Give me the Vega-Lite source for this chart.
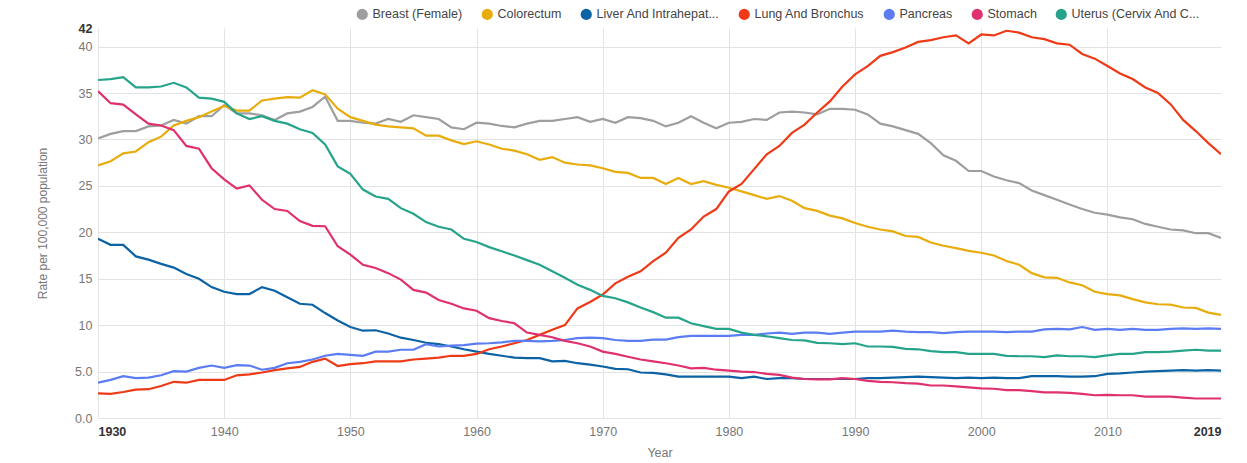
{
"$schema": "https://vega.github.io/schema/vega-lite/v6.json",
"width": 1123, "height": 390,
"autosize": {"type": "none"},
"padding": {"left": 98, "top": 28, "right": 26, "bottom": 45},
"background": "white",
"config": {"view": {"stroke": null}, "font": "Liberation Sans"},
"data": {"values": [
{"Year":1930,"Site":"Breast (Female)","Rate":30.1},{"Year":1931,"Site":"Breast (Female)","Rate":30.6},{"Year":1932,"Site":"Breast (Female)","Rate":30.9},{"Year":1933,"Site":"Breast (Female)","Rate":30.9},{"Year":1934,"Site":"Breast (Female)","Rate":31.4},{"Year":1935,"Site":"Breast (Female)","Rate":31.5},{"Year":1936,"Site":"Breast (Female)","Rate":32.1},{"Year":1937,"Site":"Breast (Female)","Rate":31.7},{"Year":1938,"Site":"Breast (Female)","Rate":32.5},{"Year":1939,"Site":"Breast (Female)","Rate":32.5},
{"Year":1940,"Site":"Breast (Female)","Rate":33.7},{"Year":1941,"Site":"Breast (Female)","Rate":32.8},{"Year":1942,"Site":"Breast (Female)","Rate":32.8},{"Year":1943,"Site":"Breast (Female)","Rate":32.6},{"Year":1944,"Site":"Breast (Female)","Rate":32.1},{"Year":1945,"Site":"Breast (Female)","Rate":32.8},{"Year":1946,"Site":"Breast (Female)","Rate":33.0},{"Year":1947,"Site":"Breast (Female)","Rate":33.5},{"Year":1948,"Site":"Breast (Female)","Rate":34.6},{"Year":1949,"Site":"Breast (Female)","Rate":32.0},
{"Year":1950,"Site":"Breast (Female)","Rate":32.0},{"Year":1951,"Site":"Breast (Female)","Rate":31.8},{"Year":1952,"Site":"Breast (Female)","Rate":31.7},{"Year":1953,"Site":"Breast (Female)","Rate":32.2},{"Year":1954,"Site":"Breast (Female)","Rate":31.9},{"Year":1955,"Site":"Breast (Female)","Rate":32.6},{"Year":1956,"Site":"Breast (Female)","Rate":32.4},{"Year":1957,"Site":"Breast (Female)","Rate":32.2},{"Year":1958,"Site":"Breast (Female)","Rate":31.3},{"Year":1959,"Site":"Breast (Female)","Rate":31.1},
{"Year":1960,"Site":"Breast (Female)","Rate":31.8},{"Year":1961,"Site":"Breast (Female)","Rate":31.7},{"Year":1962,"Site":"Breast (Female)","Rate":31.45},{"Year":1963,"Site":"Breast (Female)","Rate":31.3},{"Year":1964,"Site":"Breast (Female)","Rate":31.7},{"Year":1965,"Site":"Breast (Female)","Rate":32.0},{"Year":1966,"Site":"Breast (Female)","Rate":32.0},{"Year":1967,"Site":"Breast (Female)","Rate":32.2},{"Year":1968,"Site":"Breast (Female)","Rate":32.4},{"Year":1969,"Site":"Breast (Female)","Rate":31.9},
{"Year":1970,"Site":"Breast (Female)","Rate":32.2},{"Year":1971,"Site":"Breast (Female)","Rate":31.8},{"Year":1972,"Site":"Breast (Female)","Rate":32.4},{"Year":1973,"Site":"Breast (Female)","Rate":32.3},{"Year":1974,"Site":"Breast (Female)","Rate":32.0},{"Year":1975,"Site":"Breast (Female)","Rate":31.4},{"Year":1976,"Site":"Breast (Female)","Rate":31.8},{"Year":1977,"Site":"Breast (Female)","Rate":32.5},{"Year":1978,"Site":"Breast (Female)","Rate":31.8},{"Year":1979,"Site":"Breast (Female)","Rate":31.2},
{"Year":1980,"Site":"Breast (Female)","Rate":31.8},{"Year":1981,"Site":"Breast (Female)","Rate":31.9},{"Year":1982,"Site":"Breast (Female)","Rate":32.2},{"Year":1983,"Site":"Breast (Female)","Rate":32.1},{"Year":1984,"Site":"Breast (Female)","Rate":32.9},{"Year":1985,"Site":"Breast (Female)","Rate":33.0},{"Year":1986,"Site":"Breast (Female)","Rate":32.9},{"Year":1987,"Site":"Breast (Female)","Rate":32.7},{"Year":1988,"Site":"Breast (Female)","Rate":33.3},{"Year":1989,"Site":"Breast (Female)","Rate":33.3},
{"Year":1990,"Site":"Breast (Female)","Rate":33.2},{"Year":1991,"Site":"Breast (Female)","Rate":32.7},{"Year":1992,"Site":"Breast (Female)","Rate":31.7},{"Year":1993,"Site":"Breast (Female)","Rate":31.4},{"Year":1994,"Site":"Breast (Female)","Rate":31.0},{"Year":1995,"Site":"Breast (Female)","Rate":30.6},{"Year":1996,"Site":"Breast (Female)","Rate":29.6},{"Year":1997,"Site":"Breast (Female)","Rate":28.3},{"Year":1998,"Site":"Breast (Female)","Rate":27.7},{"Year":1999,"Site":"Breast (Female)","Rate":26.6},
{"Year":2000,"Site":"Breast (Female)","Rate":26.6},{"Year":2001,"Site":"Breast (Female)","Rate":26.0},{"Year":2002,"Site":"Breast (Female)","Rate":25.6},{"Year":2003,"Site":"Breast (Female)","Rate":25.3},{"Year":2004,"Site":"Breast (Female)","Rate":24.5},{"Year":2005,"Site":"Breast (Female)","Rate":24.0},{"Year":2006,"Site":"Breast (Female)","Rate":23.5},{"Year":2007,"Site":"Breast (Female)","Rate":23.0},{"Year":2008,"Site":"Breast (Female)","Rate":22.5},{"Year":2009,"Site":"Breast (Female)","Rate":22.1},
{"Year":2010,"Site":"Breast (Female)","Rate":21.9},{"Year":2011,"Site":"Breast (Female)","Rate":21.6},{"Year":2012,"Site":"Breast (Female)","Rate":21.4},{"Year":2013,"Site":"Breast (Female)","Rate":20.9},{"Year":2014,"Site":"Breast (Female)","Rate":20.6},{"Year":2015,"Site":"Breast (Female)","Rate":20.3},{"Year":2016,"Site":"Breast (Female)","Rate":20.2},{"Year":2017,"Site":"Breast (Female)","Rate":19.9},{"Year":2018,"Site":"Breast (Female)","Rate":19.9},{"Year":2019,"Site":"Breast (Female)","Rate":19.4},

{"Year":1930,"Site":"Colorectum","Rate":27.2},{"Year":1931,"Site":"Colorectum","Rate":27.65},{"Year":1932,"Site":"Colorectum","Rate":28.5},{"Year":1933,"Site":"Colorectum","Rate":28.7},{"Year":1934,"Site":"Colorectum","Rate":29.7},{"Year":1935,"Site":"Colorectum","Rate":30.3},{"Year":1936,"Site":"Colorectum","Rate":31.5},{"Year":1937,"Site":"Colorectum","Rate":32.0},{"Year":1938,"Site":"Colorectum","Rate":32.4},{"Year":1939,"Site":"Colorectum","Rate":33.0},
{"Year":1940,"Site":"Colorectum","Rate":33.6},{"Year":1941,"Site":"Colorectum","Rate":33.1},{"Year":1942,"Site":"Colorectum","Rate":33.1},{"Year":1943,"Site":"Colorectum","Rate":34.2},{"Year":1944,"Site":"Colorectum","Rate":34.4},{"Year":1945,"Site":"Colorectum","Rate":34.55},{"Year":1946,"Site":"Colorectum","Rate":34.5},{"Year":1947,"Site":"Colorectum","Rate":35.3},{"Year":1948,"Site":"Colorectum","Rate":34.85},{"Year":1949,"Site":"Colorectum","Rate":33.3},
{"Year":1950,"Site":"Colorectum","Rate":32.4},{"Year":1951,"Site":"Colorectum","Rate":32.0},{"Year":1952,"Site":"Colorectum","Rate":31.6},{"Year":1953,"Site":"Colorectum","Rate":31.4},{"Year":1954,"Site":"Colorectum","Rate":31.3},{"Year":1955,"Site":"Colorectum","Rate":31.2},{"Year":1956,"Site":"Colorectum","Rate":30.4},{"Year":1957,"Site":"Colorectum","Rate":30.4},{"Year":1958,"Site":"Colorectum","Rate":29.9},{"Year":1959,"Site":"Colorectum","Rate":29.5},
{"Year":1960,"Site":"Colorectum","Rate":29.8},{"Year":1961,"Site":"Colorectum","Rate":29.45},{"Year":1962,"Site":"Colorectum","Rate":29.0},{"Year":1963,"Site":"Colorectum","Rate":28.8},{"Year":1964,"Site":"Colorectum","Rate":28.4},{"Year":1965,"Site":"Colorectum","Rate":27.8},{"Year":1966,"Site":"Colorectum","Rate":28.1},{"Year":1967,"Site":"Colorectum","Rate":27.5},{"Year":1968,"Site":"Colorectum","Rate":27.3},{"Year":1969,"Site":"Colorectum","Rate":27.2},
{"Year":1970,"Site":"Colorectum","Rate":26.9},{"Year":1971,"Site":"Colorectum","Rate":26.5},{"Year":1972,"Site":"Colorectum","Rate":26.4},{"Year":1973,"Site":"Colorectum","Rate":25.85},{"Year":1974,"Site":"Colorectum","Rate":25.85},{"Year":1975,"Site":"Colorectum","Rate":25.2},{"Year":1976,"Site":"Colorectum","Rate":25.85},{"Year":1977,"Site":"Colorectum","Rate":25.2},{"Year":1978,"Site":"Colorectum","Rate":25.5},{"Year":1979,"Site":"Colorectum","Rate":25.1},
{"Year":1980,"Site":"Colorectum","Rate":24.8},{"Year":1981,"Site":"Colorectum","Rate":24.4},{"Year":1982,"Site":"Colorectum","Rate":24.0},{"Year":1983,"Site":"Colorectum","Rate":23.6},{"Year":1984,"Site":"Colorectum","Rate":23.9},{"Year":1985,"Site":"Colorectum","Rate":23.4},{"Year":1986,"Site":"Colorectum","Rate":22.6},{"Year":1987,"Site":"Colorectum","Rate":22.3},{"Year":1988,"Site":"Colorectum","Rate":21.8},{"Year":1989,"Site":"Colorectum","Rate":21.5},
{"Year":1990,"Site":"Colorectum","Rate":21.0},{"Year":1991,"Site":"Colorectum","Rate":20.6},{"Year":1992,"Site":"Colorectum","Rate":20.3},{"Year":1993,"Site":"Colorectum","Rate":20.1},{"Year":1994,"Site":"Colorectum","Rate":19.6},{"Year":1995,"Site":"Colorectum","Rate":19.5},{"Year":1996,"Site":"Colorectum","Rate":18.9},{"Year":1997,"Site":"Colorectum","Rate":18.55},{"Year":1998,"Site":"Colorectum","Rate":18.3},{"Year":1999,"Site":"Colorectum","Rate":18.0},
{"Year":2000,"Site":"Colorectum","Rate":17.8},{"Year":2001,"Site":"Colorectum","Rate":17.5},{"Year":2002,"Site":"Colorectum","Rate":16.9},{"Year":2003,"Site":"Colorectum","Rate":16.5},{"Year":2004,"Site":"Colorectum","Rate":15.6},{"Year":2005,"Site":"Colorectum","Rate":15.15},{"Year":2006,"Site":"Colorectum","Rate":15.1},{"Year":2007,"Site":"Colorectum","Rate":14.6},{"Year":2008,"Site":"Colorectum","Rate":14.3},{"Year":2009,"Site":"Colorectum","Rate":13.6},
{"Year":2010,"Site":"Colorectum","Rate":13.35},{"Year":2011,"Site":"Colorectum","Rate":13.2},{"Year":2012,"Site":"Colorectum","Rate":12.8},{"Year":2013,"Site":"Colorectum","Rate":12.45},{"Year":2014,"Site":"Colorectum","Rate":12.25},{"Year":2015,"Site":"Colorectum","Rate":12.2},{"Year":2016,"Site":"Colorectum","Rate":11.9},{"Year":2017,"Site":"Colorectum","Rate":11.85},{"Year":2018,"Site":"Colorectum","Rate":11.35},{"Year":2019,"Site":"Colorectum","Rate":11.1},

{"Year":1930,"Site":"Liver And Intrahepatic Bile Duct","Rate":19.3},{"Year":1931,"Site":"Liver And Intrahepatic Bile Duct","Rate":18.65},{"Year":1932,"Site":"Liver And Intrahepatic Bile Duct","Rate":18.65},{"Year":1933,"Site":"Liver And Intrahepatic Bile Duct","Rate":17.4},{"Year":1934,"Site":"Liver And Intrahepatic Bile Duct","Rate":17.05},{"Year":1935,"Site":"Liver And Intrahepatic Bile Duct","Rate":16.6},{"Year":1936,"Site":"Liver And Intrahepatic Bile Duct","Rate":16.2},{"Year":1937,"Site":"Liver And Intrahepatic Bile Duct","Rate":15.5},{"Year":1938,"Site":"Liver And Intrahepatic Bile Duct","Rate":15.0},{"Year":1939,"Site":"Liver And Intrahepatic Bile Duct","Rate":14.1},
{"Year":1940,"Site":"Liver And Intrahepatic Bile Duct","Rate":13.6},{"Year":1941,"Site":"Liver And Intrahepatic Bile Duct","Rate":13.35},{"Year":1942,"Site":"Liver And Intrahepatic Bile Duct","Rate":13.35},{"Year":1943,"Site":"Liver And Intrahepatic Bile Duct","Rate":14.1},{"Year":1944,"Site":"Liver And Intrahepatic Bile Duct","Rate":13.7},{"Year":1945,"Site":"Liver And Intrahepatic Bile Duct","Rate":13.0},{"Year":1946,"Site":"Liver And Intrahepatic Bile Duct","Rate":12.3},{"Year":1947,"Site":"Liver And Intrahepatic Bile Duct","Rate":12.2},{"Year":1948,"Site":"Liver And Intrahepatic Bile Duct","Rate":11.3},{"Year":1949,"Site":"Liver And Intrahepatic Bile Duct","Rate":10.5},
{"Year":1950,"Site":"Liver And Intrahepatic Bile Duct","Rate":9.8},{"Year":1951,"Site":"Liver And Intrahepatic Bile Duct","Rate":9.4},{"Year":1952,"Site":"Liver And Intrahepatic Bile Duct","Rate":9.45},{"Year":1953,"Site":"Liver And Intrahepatic Bile Duct","Rate":9.1},{"Year":1954,"Site":"Liver And Intrahepatic Bile Duct","Rate":8.65},{"Year":1955,"Site":"Liver And Intrahepatic Bile Duct","Rate":8.4},{"Year":1956,"Site":"Liver And Intrahepatic Bile Duct","Rate":8.1},{"Year":1957,"Site":"Liver And Intrahepatic Bile Duct","Rate":7.95},{"Year":1958,"Site":"Liver And Intrahepatic Bile Duct","Rate":7.7},{"Year":1959,"Site":"Liver And Intrahepatic Bile Duct","Rate":7.4},
{"Year":1960,"Site":"Liver And Intrahepatic Bile Duct","Rate":7.15},{"Year":1961,"Site":"Liver And Intrahepatic Bile Duct","Rate":6.9},{"Year":1962,"Site":"Liver And Intrahepatic Bile Duct","Rate":6.7},{"Year":1963,"Site":"Liver And Intrahepatic Bile Duct","Rate":6.5},{"Year":1964,"Site":"Liver And Intrahepatic Bile Duct","Rate":6.45},{"Year":1965,"Site":"Liver And Intrahepatic Bile Duct","Rate":6.45},{"Year":1966,"Site":"Liver And Intrahepatic Bile Duct","Rate":6.1},{"Year":1967,"Site":"Liver And Intrahepatic Bile Duct","Rate":6.15},{"Year":1968,"Site":"Liver And Intrahepatic Bile Duct","Rate":5.9},{"Year":1969,"Site":"Liver And Intrahepatic Bile Duct","Rate":5.75},
{"Year":1970,"Site":"Liver And Intrahepatic Bile Duct","Rate":5.55},{"Year":1971,"Site":"Liver And Intrahepatic Bile Duct","Rate":5.3},{"Year":1972,"Site":"Liver And Intrahepatic Bile Duct","Rate":5.25},{"Year":1973,"Site":"Liver And Intrahepatic Bile Duct","Rate":4.9},{"Year":1974,"Site":"Liver And Intrahepatic Bile Duct","Rate":4.85},{"Year":1975,"Site":"Liver And Intrahepatic Bile Duct","Rate":4.7},{"Year":1976,"Site":"Liver And Intrahepatic Bile Duct","Rate":4.45},{"Year":1977,"Site":"Liver And Intrahepatic Bile Duct","Rate":4.45},{"Year":1978,"Site":"Liver And Intrahepatic Bile Duct","Rate":4.45},{"Year":1979,"Site":"Liver And Intrahepatic Bile Duct","Rate":4.45},
{"Year":1980,"Site":"Liver And Intrahepatic Bile Duct","Rate":4.45},{"Year":1981,"Site":"Liver And Intrahepatic Bile Duct","Rate":4.3},{"Year":1982,"Site":"Liver And Intrahepatic Bile Duct","Rate":4.45},{"Year":1983,"Site":"Liver And Intrahepatic Bile Duct","Rate":4.2},{"Year":1984,"Site":"Liver And Intrahepatic Bile Duct","Rate":4.3},{"Year":1985,"Site":"Liver And Intrahepatic Bile Duct","Rate":4.3},{"Year":1986,"Site":"Liver And Intrahepatic Bile Duct","Rate":4.2},{"Year":1987,"Site":"Liver And Intrahepatic Bile Duct","Rate":4.2},{"Year":1988,"Site":"Liver And Intrahepatic Bile Duct","Rate":4.2},{"Year":1989,"Site":"Liver And Intrahepatic Bile Duct","Rate":4.2},
{"Year":1990,"Site":"Liver And Intrahepatic Bile Duct","Rate":4.2},{"Year":1991,"Site":"Liver And Intrahepatic Bile Duct","Rate":4.3},{"Year":1992,"Site":"Liver And Intrahepatic Bile Duct","Rate":4.3},{"Year":1993,"Site":"Liver And Intrahepatic Bile Duct","Rate":4.35},{"Year":1994,"Site":"Liver And Intrahepatic Bile Duct","Rate":4.4},{"Year":1995,"Site":"Liver And Intrahepatic Bile Duct","Rate":4.45},{"Year":1996,"Site":"Liver And Intrahepatic Bile Duct","Rate":4.4},{"Year":1997,"Site":"Liver And Intrahepatic Bile Duct","Rate":4.35},{"Year":1998,"Site":"Liver And Intrahepatic Bile Duct","Rate":4.3},{"Year":1999,"Site":"Liver And Intrahepatic Bile Duct","Rate":4.35},
{"Year":2000,"Site":"Liver And Intrahepatic Bile Duct","Rate":4.3},{"Year":2001,"Site":"Liver And Intrahepatic Bile Duct","Rate":4.35},{"Year":2002,"Site":"Liver And Intrahepatic Bile Duct","Rate":4.3},{"Year":2003,"Site":"Liver And Intrahepatic Bile Duct","Rate":4.3},{"Year":2004,"Site":"Liver And Intrahepatic Bile Duct","Rate":4.5},{"Year":2005,"Site":"Liver And Intrahepatic Bile Duct","Rate":4.5},{"Year":2006,"Site":"Liver And Intrahepatic Bile Duct","Rate":4.5},{"Year":2007,"Site":"Liver And Intrahepatic Bile Duct","Rate":4.45},{"Year":2008,"Site":"Liver And Intrahepatic Bile Duct","Rate":4.45},{"Year":2009,"Site":"Liver And Intrahepatic Bile Duct","Rate":4.5},
{"Year":2010,"Site":"Liver And Intrahepatic Bile Duct","Rate":4.75},{"Year":2011,"Site":"Liver And Intrahepatic Bile Duct","Rate":4.8},{"Year":2012,"Site":"Liver And Intrahepatic Bile Duct","Rate":4.9},{"Year":2013,"Site":"Liver And Intrahepatic Bile Duct","Rate":5.0},{"Year":2014,"Site":"Liver And Intrahepatic Bile Duct","Rate":5.05},{"Year":2015,"Site":"Liver And Intrahepatic Bile Duct","Rate":5.1},{"Year":2016,"Site":"Liver And Intrahepatic Bile Duct","Rate":5.15},{"Year":2017,"Site":"Liver And Intrahepatic Bile Duct","Rate":5.1},{"Year":2018,"Site":"Liver And Intrahepatic Bile Duct","Rate":5.15},{"Year":2019,"Site":"Liver And Intrahepatic Bile Duct","Rate":5.1},

{"Year":1930,"Site":"Lung And Bronchus","Rate":2.65},{"Year":1931,"Site":"Lung And Bronchus","Rate":2.6},{"Year":1932,"Site":"Lung And Bronchus","Rate":2.8},{"Year":1933,"Site":"Lung And Bronchus","Rate":3.05},{"Year":1934,"Site":"Lung And Bronchus","Rate":3.1},{"Year":1935,"Site":"Lung And Bronchus","Rate":3.45},{"Year":1936,"Site":"Lung And Bronchus","Rate":3.9},{"Year":1937,"Site":"Lung And Bronchus","Rate":3.8},{"Year":1938,"Site":"Lung And Bronchus","Rate":4.1},{"Year":1939,"Site":"Lung And Bronchus","Rate":4.1},
{"Year":1940,"Site":"Lung And Bronchus","Rate":4.1},{"Year":1941,"Site":"Lung And Bronchus","Rate":4.6},{"Year":1942,"Site":"Lung And Bronchus","Rate":4.7},{"Year":1943,"Site":"Lung And Bronchus","Rate":4.9},{"Year":1944,"Site":"Lung And Bronchus","Rate":5.15},{"Year":1945,"Site":"Lung And Bronchus","Rate":5.35},{"Year":1946,"Site":"Lung And Bronchus","Rate":5.5},{"Year":1947,"Site":"Lung And Bronchus","Rate":6.05},{"Year":1948,"Site":"Lung And Bronchus","Rate":6.4},{"Year":1949,"Site":"Lung And Bronchus","Rate":5.6},
{"Year":1950,"Site":"Lung And Bronchus","Rate":5.8},{"Year":1951,"Site":"Lung And Bronchus","Rate":5.9},{"Year":1952,"Site":"Lung And Bronchus","Rate":6.1},{"Year":1953,"Site":"Lung And Bronchus","Rate":6.1},{"Year":1954,"Site":"Lung And Bronchus","Rate":6.1},{"Year":1955,"Site":"Lung And Bronchus","Rate":6.3},{"Year":1956,"Site":"Lung And Bronchus","Rate":6.4},{"Year":1957,"Site":"Lung And Bronchus","Rate":6.5},{"Year":1958,"Site":"Lung And Bronchus","Rate":6.7},{"Year":1959,"Site":"Lung And Bronchus","Rate":6.7},
{"Year":1960,"Site":"Lung And Bronchus","Rate":6.9},{"Year":1961,"Site":"Lung And Bronchus","Rate":7.4},{"Year":1962,"Site":"Lung And Bronchus","Rate":7.7},{"Year":1963,"Site":"Lung And Bronchus","Rate":8.05},{"Year":1964,"Site":"Lung And Bronchus","Rate":8.4},{"Year":1965,"Site":"Lung And Bronchus","Rate":8.95},{"Year":1966,"Site":"Lung And Bronchus","Rate":9.5},{"Year":1967,"Site":"Lung And Bronchus","Rate":10.0},{"Year":1968,"Site":"Lung And Bronchus","Rate":11.8},{"Year":1969,"Site":"Lung And Bronchus","Rate":12.5},
{"Year":1970,"Site":"Lung And Bronchus","Rate":13.3},{"Year":1971,"Site":"Lung And Bronchus","Rate":14.5},{"Year":1972,"Site":"Lung And Bronchus","Rate":15.2},{"Year":1973,"Site":"Lung And Bronchus","Rate":15.8},{"Year":1974,"Site":"Lung And Bronchus","Rate":16.9},{"Year":1975,"Site":"Lung And Bronchus","Rate":17.8},{"Year":1976,"Site":"Lung And Bronchus","Rate":19.4},{"Year":1977,"Site":"Lung And Bronchus","Rate":20.3},{"Year":1978,"Site":"Lung And Bronchus","Rate":21.7},{"Year":1979,"Site":"Lung And Bronchus","Rate":22.5},
{"Year":1980,"Site":"Lung And Bronchus","Rate":24.4},{"Year":1981,"Site":"Lung And Bronchus","Rate":25.2},{"Year":1982,"Site":"Lung And Bronchus","Rate":26.8},{"Year":1983,"Site":"Lung And Bronchus","Rate":28.4},{"Year":1984,"Site":"Lung And Bronchus","Rate":29.3},{"Year":1985,"Site":"Lung And Bronchus","Rate":30.7},{"Year":1986,"Site":"Lung And Bronchus","Rate":31.6},{"Year":1987,"Site":"Lung And Bronchus","Rate":32.9},{"Year":1988,"Site":"Lung And Bronchus","Rate":34.1},{"Year":1989,"Site":"Lung And Bronchus","Rate":35.7},
{"Year":1990,"Site":"Lung And Bronchus","Rate":37.0},{"Year":1991,"Site":"Lung And Bronchus","Rate":37.9},{"Year":1992,"Site":"Lung And Bronchus","Rate":39.0},{"Year":1993,"Site":"Lung And Bronchus","Rate":39.4},{"Year":1994,"Site":"Lung And Bronchus","Rate":39.9},{"Year":1995,"Site":"Lung And Bronchus","Rate":40.5},{"Year":1996,"Site":"Lung And Bronchus","Rate":40.7},{"Year":1997,"Site":"Lung And Bronchus","Rate":41.0},{"Year":1998,"Site":"Lung And Bronchus","Rate":41.2},{"Year":1999,"Site":"Lung And Bronchus","Rate":40.35},
{"Year":2000,"Site":"Lung And Bronchus","Rate":41.3},{"Year":2001,"Site":"Lung And Bronchus","Rate":41.2},{"Year":2002,"Site":"Lung And Bronchus","Rate":41.7},{"Year":2003,"Site":"Lung And Bronchus","Rate":41.5},{"Year":2004,"Site":"Lung And Bronchus","Rate":41.0},{"Year":2005,"Site":"Lung And Bronchus","Rate":40.8},{"Year":2006,"Site":"Lung And Bronchus","Rate":40.35},{"Year":2007,"Site":"Lung And Bronchus","Rate":40.2},{"Year":2008,"Site":"Lung And Bronchus","Rate":39.2},{"Year":2009,"Site":"Lung And Bronchus","Rate":38.7},
{"Year":2010,"Site":"Lung And Bronchus","Rate":37.9},{"Year":2011,"Site":"Lung And Bronchus","Rate":37.1},{"Year":2012,"Site":"Lung And Bronchus","Rate":36.5},{"Year":2013,"Site":"Lung And Bronchus","Rate":35.6},{"Year":2014,"Site":"Lung And Bronchus","Rate":35.0},{"Year":2015,"Site":"Lung And Bronchus","Rate":33.8},{"Year":2016,"Site":"Lung And Bronchus","Rate":32.1},{"Year":2017,"Site":"Lung And Bronchus","Rate":30.9},{"Year":2018,"Site":"Lung And Bronchus","Rate":29.6},{"Year":2019,"Site":"Lung And Bronchus","Rate":28.4},

{"Year":1930,"Site":"Pancreas","Rate":3.8},{"Year":1931,"Site":"Pancreas","Rate":4.1},{"Year":1932,"Site":"Pancreas","Rate":4.5},{"Year":1933,"Site":"Pancreas","Rate":4.3},{"Year":1934,"Site":"Pancreas","Rate":4.35},{"Year":1935,"Site":"Pancreas","Rate":4.6},{"Year":1936,"Site":"Pancreas","Rate":5.05},{"Year":1937,"Site":"Pancreas","Rate":5.0},{"Year":1938,"Site":"Pancreas","Rate":5.4},{"Year":1939,"Site":"Pancreas","Rate":5.65},
{"Year":1940,"Site":"Pancreas","Rate":5.4},{"Year":1941,"Site":"Pancreas","Rate":5.7},{"Year":1942,"Site":"Pancreas","Rate":5.65},{"Year":1943,"Site":"Pancreas","Rate":5.2},{"Year":1944,"Site":"Pancreas","Rate":5.4},{"Year":1945,"Site":"Pancreas","Rate":5.9},{"Year":1946,"Site":"Pancreas","Rate":6.05},{"Year":1947,"Site":"Pancreas","Rate":6.3},{"Year":1948,"Site":"Pancreas","Rate":6.7},{"Year":1949,"Site":"Pancreas","Rate":6.9},
{"Year":1950,"Site":"Pancreas","Rate":6.8},{"Year":1951,"Site":"Pancreas","Rate":6.7},{"Year":1952,"Site":"Pancreas","Rate":7.15},{"Year":1953,"Site":"Pancreas","Rate":7.15},{"Year":1954,"Site":"Pancreas","Rate":7.35},{"Year":1955,"Site":"Pancreas","Rate":7.35},{"Year":1956,"Site":"Pancreas","Rate":7.95},{"Year":1957,"Site":"Pancreas","Rate":7.7},{"Year":1958,"Site":"Pancreas","Rate":7.8},{"Year":1959,"Site":"Pancreas","Rate":7.85},
{"Year":1960,"Site":"Pancreas","Rate":8.0},{"Year":1961,"Site":"Pancreas","Rate":8.05},{"Year":1962,"Site":"Pancreas","Rate":8.15},{"Year":1963,"Site":"Pancreas","Rate":8.3},{"Year":1964,"Site":"Pancreas","Rate":8.3},{"Year":1965,"Site":"Pancreas","Rate":8.25},{"Year":1966,"Site":"Pancreas","Rate":8.3},{"Year":1967,"Site":"Pancreas","Rate":8.4},{"Year":1968,"Site":"Pancreas","Rate":8.6},{"Year":1969,"Site":"Pancreas","Rate":8.65},
{"Year":1970,"Site":"Pancreas","Rate":8.6},{"Year":1971,"Site":"Pancreas","Rate":8.4},{"Year":1972,"Site":"Pancreas","Rate":8.3},{"Year":1973,"Site":"Pancreas","Rate":8.3},{"Year":1974,"Site":"Pancreas","Rate":8.45},{"Year":1975,"Site":"Pancreas","Rate":8.45},{"Year":1976,"Site":"Pancreas","Rate":8.7},{"Year":1977,"Site":"Pancreas","Rate":8.85},{"Year":1978,"Site":"Pancreas","Rate":8.85},{"Year":1979,"Site":"Pancreas","Rate":8.85},
{"Year":1980,"Site":"Pancreas","Rate":8.85},{"Year":1981,"Site":"Pancreas","Rate":8.95},{"Year":1982,"Site":"Pancreas","Rate":8.95},{"Year":1983,"Site":"Pancreas","Rate":9.1},{"Year":1984,"Site":"Pancreas","Rate":9.2},{"Year":1985,"Site":"Pancreas","Rate":9.05},{"Year":1986,"Site":"Pancreas","Rate":9.2},{"Year":1987,"Site":"Pancreas","Rate":9.2},{"Year":1988,"Site":"Pancreas","Rate":9.05},{"Year":1989,"Site":"Pancreas","Rate":9.2},
{"Year":1990,"Site":"Pancreas","Rate":9.3},{"Year":1991,"Site":"Pancreas","Rate":9.3},{"Year":1992,"Site":"Pancreas","Rate":9.3},{"Year":1993,"Site":"Pancreas","Rate":9.4},{"Year":1994,"Site":"Pancreas","Rate":9.3},{"Year":1995,"Site":"Pancreas","Rate":9.25},{"Year":1996,"Site":"Pancreas","Rate":9.25},{"Year":1997,"Site":"Pancreas","Rate":9.15},{"Year":1998,"Site":"Pancreas","Rate":9.25},{"Year":1999,"Site":"Pancreas","Rate":9.3},
{"Year":2000,"Site":"Pancreas","Rate":9.3},{"Year":2001,"Site":"Pancreas","Rate":9.3},{"Year":2002,"Site":"Pancreas","Rate":9.25},{"Year":2003,"Site":"Pancreas","Rate":9.3},{"Year":2004,"Site":"Pancreas","Rate":9.3},{"Year":2005,"Site":"Pancreas","Rate":9.55},{"Year":2006,"Site":"Pancreas","Rate":9.6},{"Year":2007,"Site":"Pancreas","Rate":9.55},{"Year":2008,"Site":"Pancreas","Rate":9.8},{"Year":2009,"Site":"Pancreas","Rate":9.5},
{"Year":2010,"Site":"Pancreas","Rate":9.6},{"Year":2011,"Site":"Pancreas","Rate":9.5},{"Year":2012,"Site":"Pancreas","Rate":9.6},{"Year":2013,"Site":"Pancreas","Rate":9.5},{"Year":2014,"Site":"Pancreas","Rate":9.5},{"Year":2015,"Site":"Pancreas","Rate":9.6},{"Year":2016,"Site":"Pancreas","Rate":9.65},{"Year":2017,"Site":"Pancreas","Rate":9.6},{"Year":2018,"Site":"Pancreas","Rate":9.65},{"Year":2019,"Site":"Pancreas","Rate":9.6},

{"Year":1930,"Site":"Stomach","Rate":35.2},{"Year":1931,"Site":"Stomach","Rate":33.9},{"Year":1932,"Site":"Stomach","Rate":33.75},{"Year":1933,"Site":"Stomach","Rate":32.7},{"Year":1934,"Site":"Stomach","Rate":31.7},{"Year":1935,"Site":"Stomach","Rate":31.5},{"Year":1936,"Site":"Stomach","Rate":31.0},{"Year":1937,"Site":"Stomach","Rate":29.3},{"Year":1938,"Site":"Stomach","Rate":29.0},{"Year":1939,"Site":"Stomach","Rate":26.9},
{"Year":1940,"Site":"Stomach","Rate":25.7},{"Year":1941,"Site":"Stomach","Rate":24.7},{"Year":1942,"Site":"Stomach","Rate":25.05},{"Year":1943,"Site":"Stomach","Rate":23.5},{"Year":1944,"Site":"Stomach","Rate":22.5},{"Year":1945,"Site":"Stomach","Rate":22.3},{"Year":1946,"Site":"Stomach","Rate":21.2},{"Year":1947,"Site":"Stomach","Rate":20.7},{"Year":1948,"Site":"Stomach","Rate":20.65},{"Year":1949,"Site":"Stomach","Rate":18.5},
{"Year":1950,"Site":"Stomach","Rate":17.6},{"Year":1951,"Site":"Stomach","Rate":16.5},{"Year":1952,"Site":"Stomach","Rate":16.15},{"Year":1953,"Site":"Stomach","Rate":15.6},{"Year":1954,"Site":"Stomach","Rate":14.9},{"Year":1955,"Site":"Stomach","Rate":13.8},{"Year":1956,"Site":"Stomach","Rate":13.5},{"Year":1957,"Site":"Stomach","Rate":12.7},{"Year":1958,"Site":"Stomach","Rate":12.3},{"Year":1959,"Site":"Stomach","Rate":11.8},
{"Year":1960,"Site":"Stomach","Rate":11.55},{"Year":1961,"Site":"Stomach","Rate":10.75},{"Year":1962,"Site":"Stomach","Rate":10.45},{"Year":1963,"Site":"Stomach","Rate":10.2},{"Year":1964,"Site":"Stomach","Rate":9.2},{"Year":1965,"Site":"Stomach","Rate":8.95},{"Year":1966,"Site":"Stomach","Rate":8.7},{"Year":1967,"Site":"Stomach","Rate":8.3},{"Year":1968,"Site":"Stomach","Rate":8.05},{"Year":1969,"Site":"Stomach","Rate":7.7},
{"Year":1970,"Site":"Stomach","Rate":7.15},{"Year":1971,"Site":"Stomach","Rate":6.9},{"Year":1972,"Site":"Stomach","Rate":6.6},{"Year":1973,"Site":"Stomach","Rate":6.3},{"Year":1974,"Site":"Stomach","Rate":6.1},{"Year":1975,"Site":"Stomach","Rate":5.9},{"Year":1976,"Site":"Stomach","Rate":5.65},{"Year":1977,"Site":"Stomach","Rate":5.35},{"Year":1978,"Site":"Stomach","Rate":5.4},{"Year":1979,"Site":"Stomach","Rate":5.2},
{"Year":1980,"Site":"Stomach","Rate":5.1},{"Year":1981,"Site":"Stomach","Rate":5.0},{"Year":1982,"Site":"Stomach","Rate":4.95},{"Year":1983,"Site":"Stomach","Rate":4.75},{"Year":1984,"Site":"Stomach","Rate":4.65},{"Year":1985,"Site":"Stomach","Rate":4.35},{"Year":1986,"Site":"Stomach","Rate":4.2},{"Year":1987,"Site":"Stomach","Rate":4.15},{"Year":1988,"Site":"Stomach","Rate":4.15},{"Year":1989,"Site":"Stomach","Rate":4.3},
{"Year":1990,"Site":"Stomach","Rate":4.2},{"Year":1991,"Site":"Stomach","Rate":4.0},{"Year":1992,"Site":"Stomach","Rate":3.9},{"Year":1993,"Site":"Stomach","Rate":3.85},{"Year":1994,"Site":"Stomach","Rate":3.75},{"Year":1995,"Site":"Stomach","Rate":3.7},{"Year":1996,"Site":"Stomach","Rate":3.5},{"Year":1997,"Site":"Stomach","Rate":3.5},{"Year":1998,"Site":"Stomach","Rate":3.4},{"Year":1999,"Site":"Stomach","Rate":3.3},
{"Year":2000,"Site":"Stomach","Rate":3.2},{"Year":2001,"Site":"Stomach","Rate":3.15},{"Year":2002,"Site":"Stomach","Rate":3.0},{"Year":2003,"Site":"Stomach","Rate":3.0},{"Year":2004,"Site":"Stomach","Rate":2.9},{"Year":2005,"Site":"Stomach","Rate":2.75},{"Year":2006,"Site":"Stomach","Rate":2.75},{"Year":2007,"Site":"Stomach","Rate":2.7},{"Year":2008,"Site":"Stomach","Rate":2.6},{"Year":2009,"Site":"Stomach","Rate":2.45},
{"Year":2010,"Site":"Stomach","Rate":2.5},{"Year":2011,"Site":"Stomach","Rate":2.45},{"Year":2012,"Site":"Stomach","Rate":2.45},{"Year":2013,"Site":"Stomach","Rate":2.3},{"Year":2014,"Site":"Stomach","Rate":2.3},{"Year":2015,"Site":"Stomach","Rate":2.3},{"Year":2016,"Site":"Stomach","Rate":2.2},{"Year":2017,"Site":"Stomach","Rate":2.1},{"Year":2018,"Site":"Stomach","Rate":2.1},{"Year":2019,"Site":"Stomach","Rate":2.1},

{"Year":1930,"Site":"Uterus (Cervix And Corpus)","Rate":36.4},{"Year":1931,"Site":"Uterus (Cervix And Corpus)","Rate":36.5},{"Year":1932,"Site":"Uterus (Cervix And Corpus)","Rate":36.7},{"Year":1933,"Site":"Uterus (Cervix And Corpus)","Rate":35.6},{"Year":1934,"Site":"Uterus (Cervix And Corpus)","Rate":35.6},{"Year":1935,"Site":"Uterus (Cervix And Corpus)","Rate":35.7},{"Year":1936,"Site":"Uterus (Cervix And Corpus)","Rate":36.1},{"Year":1937,"Site":"Uterus (Cervix And Corpus)","Rate":35.6},{"Year":1938,"Site":"Uterus (Cervix And Corpus)","Rate":34.5},{"Year":1939,"Site":"Uterus (Cervix And Corpus)","Rate":34.4},
{"Year":1940,"Site":"Uterus (Cervix And Corpus)","Rate":34.05},{"Year":1941,"Site":"Uterus (Cervix And Corpus)","Rate":32.8},{"Year":1942,"Site":"Uterus (Cervix And Corpus)","Rate":32.2},{"Year":1943,"Site":"Uterus (Cervix And Corpus)","Rate":32.5},{"Year":1944,"Site":"Uterus (Cervix And Corpus)","Rate":32.0},{"Year":1945,"Site":"Uterus (Cervix And Corpus)","Rate":31.7},{"Year":1946,"Site":"Uterus (Cervix And Corpus)","Rate":31.1},{"Year":1947,"Site":"Uterus (Cervix And Corpus)","Rate":30.7},{"Year":1948,"Site":"Uterus (Cervix And Corpus)","Rate":29.45},{"Year":1949,"Site":"Uterus (Cervix And Corpus)","Rate":27.1},
{"Year":1950,"Site":"Uterus (Cervix And Corpus)","Rate":26.3},{"Year":1951,"Site":"Uterus (Cervix And Corpus)","Rate":24.6},{"Year":1952,"Site":"Uterus (Cervix And Corpus)","Rate":23.85},{"Year":1953,"Site":"Uterus (Cervix And Corpus)","Rate":23.6},{"Year":1954,"Site":"Uterus (Cervix And Corpus)","Rate":22.6},{"Year":1955,"Site":"Uterus (Cervix And Corpus)","Rate":22.0},{"Year":1956,"Site":"Uterus (Cervix And Corpus)","Rate":21.1},{"Year":1957,"Site":"Uterus (Cervix And Corpus)","Rate":20.6},{"Year":1958,"Site":"Uterus (Cervix And Corpus)","Rate":20.3},{"Year":1959,"Site":"Uterus (Cervix And Corpus)","Rate":19.3},
{"Year":1960,"Site":"Uterus (Cervix And Corpus)","Rate":18.95},{"Year":1961,"Site":"Uterus (Cervix And Corpus)","Rate":18.4},{"Year":1962,"Site":"Uterus (Cervix And Corpus)","Rate":17.95},{"Year":1963,"Site":"Uterus (Cervix And Corpus)","Rate":17.5},{"Year":1964,"Site":"Uterus (Cervix And Corpus)","Rate":17.0},{"Year":1965,"Site":"Uterus (Cervix And Corpus)","Rate":16.5},{"Year":1966,"Site":"Uterus (Cervix And Corpus)","Rate":15.8},{"Year":1967,"Site":"Uterus (Cervix And Corpus)","Rate":15.1},{"Year":1968,"Site":"Uterus (Cervix And Corpus)","Rate":14.35},{"Year":1969,"Site":"Uterus (Cervix And Corpus)","Rate":13.8},
{"Year":1970,"Site":"Uterus (Cervix And Corpus)","Rate":13.15},{"Year":1971,"Site":"Uterus (Cervix And Corpus)","Rate":12.9},{"Year":1972,"Site":"Uterus (Cervix And Corpus)","Rate":12.45},{"Year":1973,"Site":"Uterus (Cervix And Corpus)","Rate":11.9},{"Year":1974,"Site":"Uterus (Cervix And Corpus)","Rate":11.4},{"Year":1975,"Site":"Uterus (Cervix And Corpus)","Rate":10.8},{"Year":1976,"Site":"Uterus (Cervix And Corpus)","Rate":10.8},{"Year":1977,"Site":"Uterus (Cervix And Corpus)","Rate":10.2},{"Year":1978,"Site":"Uterus (Cervix And Corpus)","Rate":9.9},{"Year":1979,"Site":"Uterus (Cervix And Corpus)","Rate":9.6},
{"Year":1980,"Site":"Uterus (Cervix And Corpus)","Rate":9.6},{"Year":1981,"Site":"Uterus (Cervix And Corpus)","Rate":9.2},{"Year":1982,"Site":"Uterus (Cervix And Corpus)","Rate":8.95},{"Year":1983,"Site":"Uterus (Cervix And Corpus)","Rate":8.8},{"Year":1984,"Site":"Uterus (Cervix And Corpus)","Rate":8.6},{"Year":1985,"Site":"Uterus (Cervix And Corpus)","Rate":8.4},{"Year":1986,"Site":"Uterus (Cervix And Corpus)","Rate":8.35},{"Year":1987,"Site":"Uterus (Cervix And Corpus)","Rate":8.1},{"Year":1988,"Site":"Uterus (Cervix And Corpus)","Rate":8.05},{"Year":1989,"Site":"Uterus (Cervix And Corpus)","Rate":7.95},
{"Year":1990,"Site":"Uterus (Cervix And Corpus)","Rate":8.05},{"Year":1991,"Site":"Uterus (Cervix And Corpus)","Rate":7.7},{"Year":1992,"Site":"Uterus (Cervix And Corpus)","Rate":7.7},{"Year":1993,"Site":"Uterus (Cervix And Corpus)","Rate":7.65},{"Year":1994,"Site":"Uterus (Cervix And Corpus)","Rate":7.45},{"Year":1995,"Site":"Uterus (Cervix And Corpus)","Rate":7.4},{"Year":1996,"Site":"Uterus (Cervix And Corpus)","Rate":7.2},{"Year":1997,"Site":"Uterus (Cervix And Corpus)","Rate":7.1},{"Year":1998,"Site":"Uterus (Cervix And Corpus)","Rate":7.1},{"Year":1999,"Site":"Uterus (Cervix And Corpus)","Rate":6.9},
{"Year":2000,"Site":"Uterus (Cervix And Corpus)","Rate":6.9},{"Year":2001,"Site":"Uterus (Cervix And Corpus)","Rate":6.9},{"Year":2002,"Site":"Uterus (Cervix And Corpus)","Rate":6.7},{"Year":2003,"Site":"Uterus (Cervix And Corpus)","Rate":6.65},{"Year":2004,"Site":"Uterus (Cervix And Corpus)","Rate":6.65},{"Year":2005,"Site":"Uterus (Cervix And Corpus)","Rate":6.55},{"Year":2006,"Site":"Uterus (Cervix And Corpus)","Rate":6.75},{"Year":2007,"Site":"Uterus (Cervix And Corpus)","Rate":6.65},{"Year":2008,"Site":"Uterus (Cervix And Corpus)","Rate":6.65},{"Year":2009,"Site":"Uterus (Cervix And Corpus)","Rate":6.55},
{"Year":2010,"Site":"Uterus (Cervix And Corpus)","Rate":6.75},{"Year":2011,"Site":"Uterus (Cervix And Corpus)","Rate":6.9},{"Year":2012,"Site":"Uterus (Cervix And Corpus)","Rate":6.9},{"Year":2013,"Site":"Uterus (Cervix And Corpus)","Rate":7.1},{"Year":2014,"Site":"Uterus (Cervix And Corpus)","Rate":7.1},{"Year":2015,"Site":"Uterus (Cervix And Corpus)","Rate":7.15},{"Year":2016,"Site":"Uterus (Cervix And Corpus)","Rate":7.25},{"Year":2017,"Site":"Uterus (Cervix And Corpus)","Rate":7.35},{"Year":2018,"Site":"Uterus (Cervix And Corpus)","Rate":7.25},{"Year":2019,"Site":"Uterus (Cervix And Corpus)","Rate":7.25}
]},
"mark": {"type": "line", "strokeWidth": 2.2, "clip": true},
"encoding": {
"x": {"field": "Year", "type": "quantitative",
 "scale": {"domain": [1930, 2019], "nice": false, "zero": false},
 "axis": {"values": [1930,1940,1950,1960,1970,1980,1990,2000,2010,2019], "format": "d",
  "title": "Year", "domain": false, "ticks": false, "labelPadding": 7, "labelFontSize": 12.5,
  "labelColor": {"condition": {"test": "datum.value == 1930 || datum.value == 2019", "value": "#333333"}, "value": "#777777"},
  "labelFontWeight": {"condition": {"test": "datum.value == 1930 || datum.value == 2019", "value": "bold"}, "value": "normal"},
  "gridColor": {"condition": {"test": "datum.value == 2019", "value": "transparent"}, "value": "#e3e3e3"},
  "titleFontWeight": "normal", "titleColor": "#777777", "titleFontSize": 12.5, "titleY": 34, "titleBaseline": "middle"}},
"y": {"field": "Rate", "type": "quantitative",
 "scale": {"domain": [0, 42], "nice": false},
 "axis": {"values": [0,5,10,15,20,25,30,35,40,42],
  "labelExpr": "datum.value < 10 ? format(datum.value, '.1f') : format(datum.value, 'd')",
  "title": "Rate per 100,000 population", "domain": false, "ticks": false, "labelPadding": 6, "labelFontSize": 12.5,
  "labelColor": {"condition": {"test": "datum.value == 42", "value": "#333333"}, "value": "#777777"},
  "labelFontWeight": {"condition": {"test": "datum.value == 42", "value": "bold"}, "value": "normal"},
  "gridColor": {"condition": {"test": "datum.value == 42", "value": "transparent"}, "value": "#e3e3e3"},
  "titleFontWeight": "normal", "titleColor": "#777777", "titleFontSize": 12, "titleX": -56, "titleY": 195, "titleAlign": "center", "titleBaseline": "middle"}},
"color": {"field": "Site", "type": "nominal",
 "scale": {"domain": ["Breast (Female)","Colorectum","Liver And Intrahepatic Bile Duct","Lung And Bronchus","Pancreas","Stomach","Uterus (Cervix And Corpus)"],
   "range": ["#9e9e9e","#e8ac0c","#0b62a4","#ee3a16","#5b7cf2","#e0306e","#26a48b"]},
 "legend": {"orient": "none", "legendX": 258, "legendY": -20, "direction": "horizontal", "title": null,
  "symbolType": "circle", "symbolSize": 125, "symbolStrokeWidth": 0, "labelFontSize": 12.5, "labelColor": "#444444",
  "labelOffset": 4, "columnPadding": 18, "labelLimit": 300,
  "labelExpr": "length(datum.label) > 23 ? substring(datum.label, 0, 20) + '...' : datum.label",
  "encode": {"symbols": {"update": {"fill": {"scale": "color", "field": "value"}, "fillOpacity": {"value": 1}}}}}}
}
}
